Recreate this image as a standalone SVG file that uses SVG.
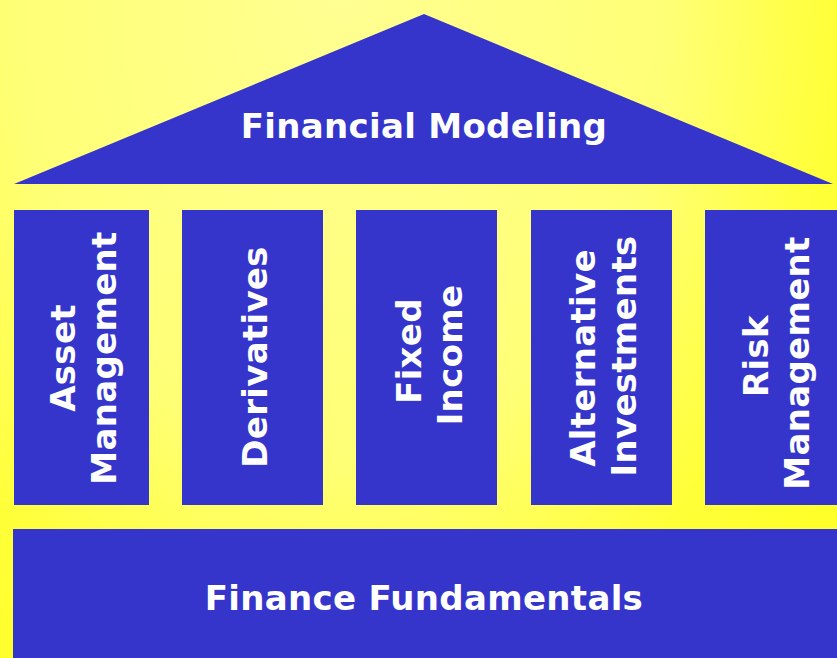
<svg xmlns="http://www.w3.org/2000/svg" width="837" height="658" viewBox="0 0 837 658">
  <defs>
    <radialGradient id="bg" gradientUnits="userSpaceOnUse" cx="0" cy="0" r="600" gradientTransform="translate(340,0) scale(1,1.4)">
      <stop offset="0" stop-color="#FFFF92"/>
      <stop offset="0.55" stop-color="#FFFF76"/>
      <stop offset="0.83" stop-color="#FFFF38"/>
      <stop offset="1" stop-color="#FFFF2A"/>
    </radialGradient>
    <style>
      .blk { fill: #3535CC; }
      .lbl { font-family: "DejaVu Sans", "Verdana", sans-serif; font-weight: bold; fill: #FFFFFF; font-size: 34px; letter-spacing: 0.3px; text-anchor: middle; }
    </style>
  </defs>
  <rect x="0" y="0" width="837" height="658" fill="url(#bg)"/>

  <g id="roof">
    <polygon class="blk" points="424,14 833,184 14,184"/>
    <text class="lbl" x="424" y="138">Financial Modeling</text>
  </g>

  <g id="asset-management">
    <rect class="blk" x="14" y="210" width="135" height="295"/>
    <text class="lbl" transform="translate(75,358) rotate(-90)" x="0" y="0">Asset</text>
    <text class="lbl" transform="translate(116,358) rotate(-90)" x="0" y="0">Management</text>
  </g>

  <g id="derivatives">
    <rect class="blk" x="182" y="210" width="141" height="295"/>
    <text class="lbl" transform="translate(267,357) rotate(-90)" x="0" y="0">Derivatives</text>
  </g>

  <g id="fixed-income">
    <rect class="blk" x="356" y="210" width="141" height="295"/>
    <text class="lbl" transform="translate(421,351) rotate(-90)" x="0" y="0">Fixed</text>
    <text class="lbl" transform="translate(462,355) rotate(-90)" x="0" y="0">Income</text>
  </g>

  <g id="alternative-investments">
    <rect class="blk" x="531" y="210" width="141" height="295"/>
    <text class="lbl" transform="translate(595,358) rotate(-90)" x="0" y="0">Alternative</text>
    <text class="lbl" transform="translate(636,356) rotate(-90)" x="0" y="0">Investments</text>
  </g>

  <g id="risk-management">
    <rect class="blk" x="705" y="210" width="140" height="295"/>
    <text class="lbl" transform="translate(768,356) rotate(-90)" x="0" y="0">Risk</text>
    <text class="lbl" transform="translate(809,363) rotate(-90)" x="0" y="0">Management</text>
  </g>

  <g id="finance-fundamentals">
    <rect class="blk" x="13" y="529" width="830" height="135"/>
    <text class="lbl" x="424" y="610">Finance Fundamentals</text>
  </g>

  <g id="connectors"></g>
</svg>
